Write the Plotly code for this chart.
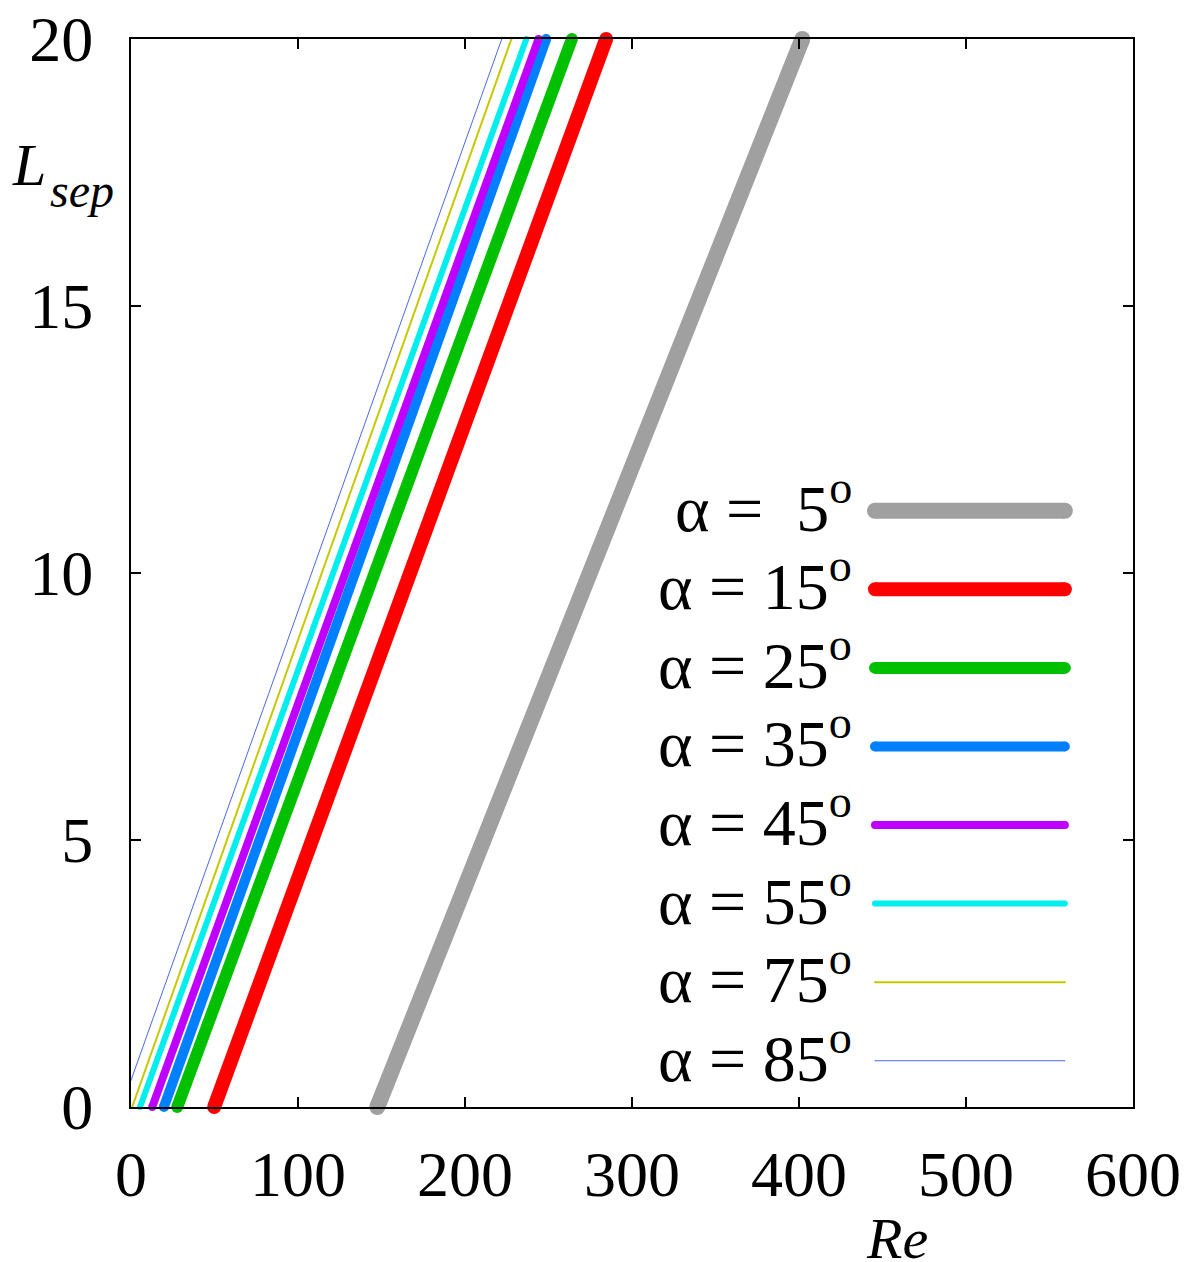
import plotly.graph_objects as go

# Data: separation length L_sep vs Re, straight lines for each angle
labels = ["α =  5", "α = 15", "α = 25", "α = 35", "α = 45", "α = 55", "α = 75", "α = 85"]
re_start = [147.5, 49.8, 27.7, 19.7, 12.7, 5.4, 0.7, 0.0]
l_start = [0.0, 0.0, 0.0, 0.0, 0.0, 0.0, 0.0, 0.5]
re_end = [402.0, 284.5, 264.0, 248.6, 244.0, 236.7, 227.8, 222.0]
l_end = [20.0, 20.0, 20.0, 20.0, 20.0, 20.0, 20.0, 20.0]
colors = ["#a0a0a0", "#ff0000", "#00c000", "#0080ff", "#c000ff", "#00eeee", "#c8c800", "#4a6ae6"]
widths = [16, 14, 12, 10, 8, 6, 2, 1]

x_ticks = [0, 100, 200, 300, 400, 500, 600]
y_ticks = [0, 5, 10, 15, 20]

SERIF = "Liberation Serif"

fig = go.Figure()
for i in range(len(labels)):
    fig.add_trace(go.Scatter(
        x=[re_start[i], re_end[i]], y=[l_start[i], l_end[i]],
        mode="lines+markers",
        line=dict(color=colors[i], width=widths[i]),
        marker=dict(color=colors[i], size=widths[i], line=dict(width=0)),
        cliponaxis=False, showlegend=False, name=labels[i]))

# manual legend (text on left, sample line on right)
row0 = 0.5583
drow = 0.07357
for i in range(len(labels)):
    yy = row0 - i * drow
    fig.add_annotation(xref="paper", yref="paper", x=0.722, y=yy + 0.007,
                       text=labels[i] + "<sup>o</sup>", showarrow=False,
                       xanchor="right", yanchor="middle",
                       font=dict(family=SERIF, size=66, color="black"))
    fig.add_shape(type="line", xref="paper", yref="paper",
                  x0=0.7425, x1=0.932, y0=yy, y1=yy,
                  line=dict(color=colors[i], width=widths[i]))
    r = widths[i] / 2.0
    for xp in (0.7425, 0.932):
        fig.add_shape(type="circle", xref="paper", yref="paper", xsizemode="pixel",
                      ysizemode="pixel", xanchor=xp, yanchor=yy,
                      x0=-r, x1=r, y0=-r, y1=r,
                      fillcolor=colors[i], line=dict(width=0))

# axis titles
fig.add_annotation(xref="paper", yref="paper", x=0.7645, y=-0.1227,
                   text="<i>Re</i>", showarrow=False, xanchor="center", yanchor="middle",
                   font=dict(family=SERIF, size=58, color="black"))
fig.add_annotation(xref="paper", yref="paper", x=-0.121, y=0.882,
                   text="<i>L</i>", showarrow=False, xanchor="left", yanchor="middle",
                   font=dict(family=SERIF, size=60, color="black"))
fig.add_annotation(xref="paper", yref="paper", x=-0.083, y=0.8577,
                   text="<i>sep</i>", showarrow=False, xanchor="left", yanchor="middle",
                   font=dict(family=SERIF, size=48, color="black"))

axis_common = dict(showline=True, linecolor="black", linewidth=2, mirror="ticks",
                   ticks="inside", ticklen=10, tickwidth=1.5, tickcolor="black",
                   showgrid=False, zeroline=False, automargin=False,
                   ticklabeloverflow="allow",
                   tickfont=dict(family=SERIF, size=64, color="black"))
fig.update_xaxes(range=[0, 600], tickvals=x_ticks, ticktext=[str(v) for v in x_ticks],
                 ticklabelstandoff=10, **axis_common)
fig.update_yaxes(range=[0, 20], tickvals=y_ticks, ticktext=[str(v) for v in y_ticks],
                 ticklabelstandoff=23, **axis_common)

fig.update_layout(width=1192, height=1254, plot_bgcolor="white", paper_bgcolor="white",
                  margin=dict(l=123, r=67, t=31, b=155))
fig.write_html("out.html")
